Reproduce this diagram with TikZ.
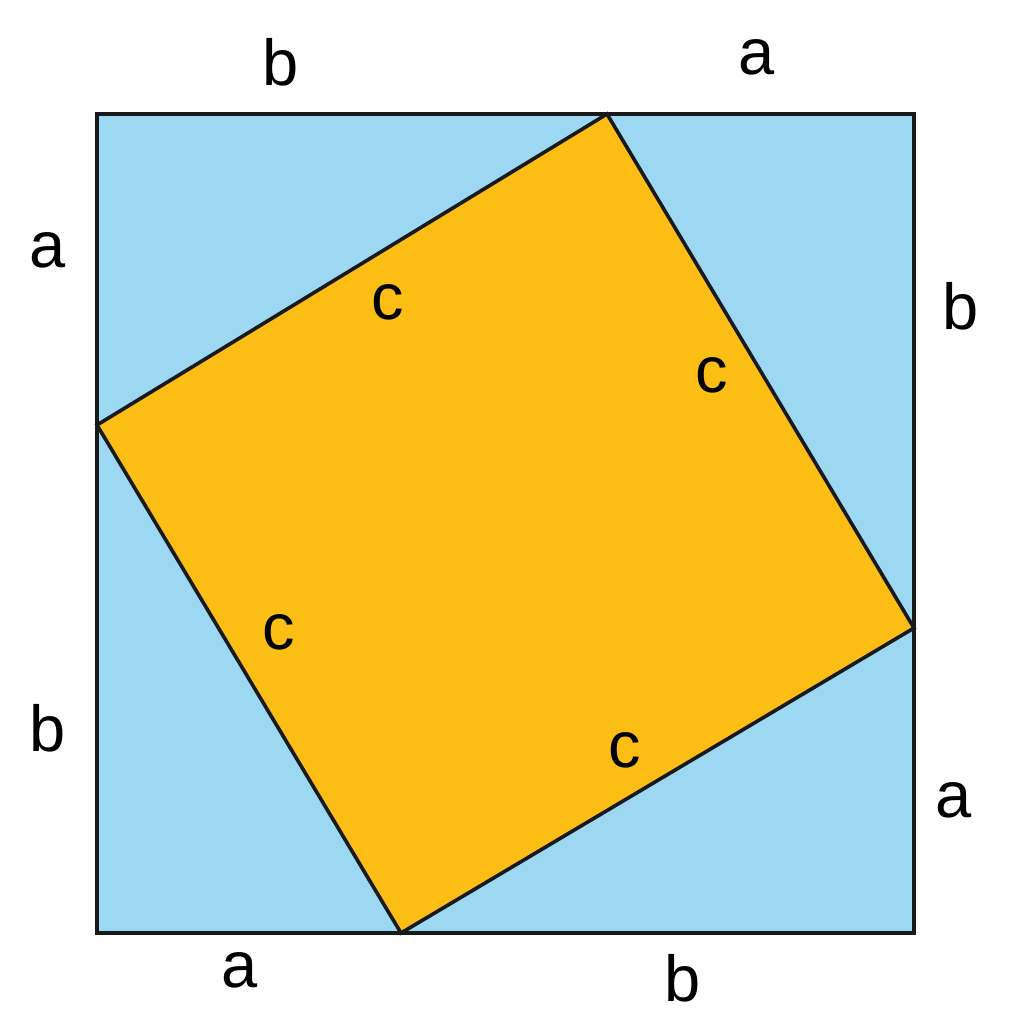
\documentclass[tikz,border=0pt]{standalone}
\usepackage{fontspec}
\setmainfont{Liberation Sans}
\definecolor{skyb}{RGB}{157,216,242}
\definecolor{gold}{RGB}{252,190,20}
\begin{document}
\begin{tikzpicture}[x=1pt,y=-1pt,
  edge/.style={line width=3.6pt,draw=black!90,line join=miter},
  lbl/.style={font=\fontsize{65}{65}\selectfont,inner sep=0pt}]
\useasboundingbox (0,0) rectangle (1024,1015);
\coordinate (TL) at (97,114);
\coordinate (TR) at (914,114);
\coordinate (BR) at (914,933);
\coordinate (BL) at (97,933);
\coordinate (P) at (607,114);
\coordinate (Q) at (914,628);
\coordinate (R) at (401,933);
\coordinate (S) at (97,425);
\fill[skyb] (TL) rectangle (BR);
\fill[gold] (P) -- (Q) -- (R) -- (S) -- cycle;
\draw[edge] (TL) rectangle (BR);
\draw[edge] (P) -- (Q) -- (R) -- (S) -- cycle;
\node[lbl] (lb1) at (281,62) {b};
\node[lbl] (la1) at (757,57) {a};
\node[lbl] (la2) at (48,250) {a};
\node[lbl] (lb2) at (961,306) {b};
\node[lbl] (lc1) at (388,302) {c};
\node[lbl] (lc2) at (712,375) {c};
\node[lbl] (lc3) at (279,632) {c};
\node[lbl] (lc4) at (625,750) {c};
\node[lbl] (lb3) at (48,728) {b};
\node[lbl] (la3) at (954,800) {a};
\node[lbl] (la4) at (240,970) {a};
\node[lbl] (lb4) at (683,978) {b};
\end{tikzpicture}
\end{document}
